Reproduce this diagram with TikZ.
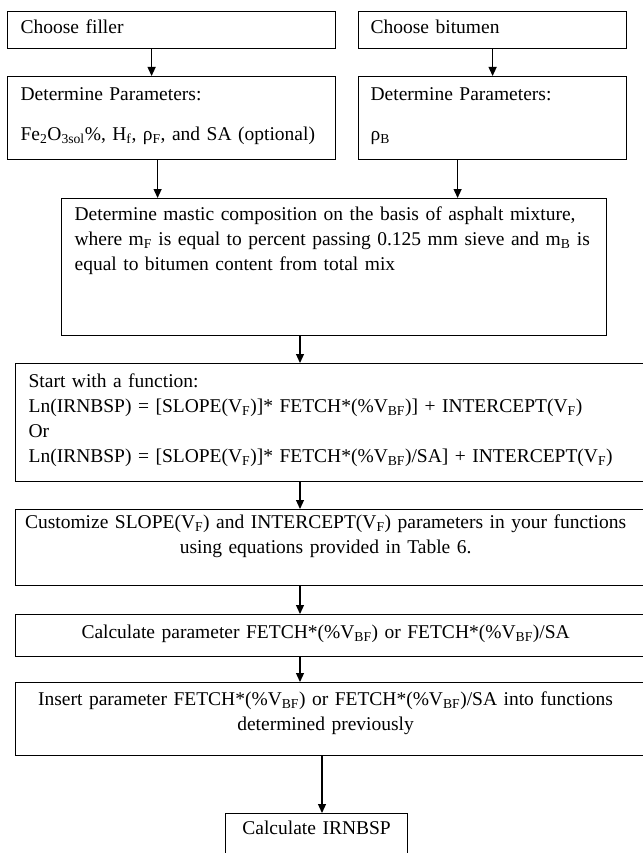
\documentclass[tikz,border=0pt]{standalone}
\usepackage{fontspec}
\setmainfont{Liberation Serif}
\usetikzlibrary{arrows.meta, positioning, calc}

\begin{document}
\begin{tikzpicture}[x=1pt, y=-1pt,
    stepbox/.style={draw, line width=1.2pt, anchor=north west, inner ysep=0pt,
                    font=\fontsize{19.5}{25}\selectfont},
    flow/.style={-{Triangle[length=9pt, width=8pt]}, line width=1.2pt}
]
    \useasboundingbox (0,0) rectangle (642,853);

    % Filler and bitumen
    \node[stepbox, inner xsep=13pt, text width=302pt, text height=22pt, text depth=15pt] (filler) at (7,11) {Choose filler};
    \node[stepbox, inner xsep=12pt, text width=244pt, text height=22pt, text depth=15pt] (bitumen) at (358,11) {Choose bitumen};

    \node[stepbox, inner xsep=13pt, text width=302pt, text height=24pt, text depth=59pt] (parF) at (7,76) {
        Determine Parameters:\\[15pt]
        Fe\textsubscript{2}O\textsubscript{3sol}\%, H\textsubscript{f}, ρ\textsubscript{F}, and SA (optional)
    };
    \node[stepbox, inner xsep=12pt, text width=244pt, text height=24pt, text depth=59pt] (parB) at (358,76) {
        Determine Parameters:\\[15pt]
        ρ\textsubscript{B}
    };

    % Mastic composition
    \node[stepbox, inner xsep=13pt, text width=519pt, text height=22pt, text depth=115pt] (mastic) at (61,198) {
        Determine mastic composition on the basis of asphalt mixture,\\
        \mbox{where m\textsubscript{F} is equal to percent passing 0.125 mm sieve and m\textsubscript{B} is}\\
        equal to bitumen content from total mix
    };

    % Main column
    \node[stepbox, inner xsep=13pt, text width=624pt, text height=24pt, text depth=94pt] (func) at (15,363) {
        Start with a function:\\
        Ln(IRNBSP) = [SLOPE(V\textsubscript{F})]* FETCH*(\%V\textsubscript{BF})] + INTERCEPT(V\textsubscript{F})\\
        Or\\
        Ln(IRNBSP) = [SLOPE(V\textsubscript{F})]* FETCH*(\%V\textsubscript{BF})/SA] + INTERCEPT(V\textsubscript{F})
    };
    \node[stepbox, inner xsep=0pt, text width=650pt, text height=18.5pt, text depth=57.5pt] (custom) at (15,509) {
        \parbox[t]{620pt}{\centering
        Customize SLOPE(V\textsubscript{F}) and INTERCEPT(V\textsubscript{F}) parameters in your functions\\
        using equations provided in Table 6.}
    };
    \node[stepbox, inner xsep=0pt, text width=650pt, text height=24pt, text depth=18pt] (calcfetch) at (15,614) {
        \parbox[t]{620pt}{\centering
        Calculate parameter FETCH*(\%V\textsubscript{BF}) or FETCH*(\%V\textsubscript{BF})/SA}
    };
    \node[stepbox, inner xsep=0pt, text width=650pt, text height=23pt, text depth=50pt] (insertfn) at (15,682) {
        \parbox[t]{620pt}{\centering
        Insert parameter FETCH*(\%V\textsubscript{BF}) or FETCH*(\%V\textsubscript{BF})/SA into functions\\
        determined previously}
    };
    \node[stepbox, inner xsep=0pt, text width=182pt, align=center, text height=21pt, text depth=36pt] (irnbsp) at (225,813) {Calculate IRNBSP};

    % Arrows
    \coordinate (spine) at (300,0);
    \coordinate (spinelow) at (322,0);
    \draw[flow] ([xshift=-20pt]filler.south) -- ([xshift=-20pt]filler.south |- parF.north);
    \draw[flow] (bitumen.south) -- (parB.north);
    \draw[flow] ([xshift=-14pt]parF.south) -- ([xshift=-14pt]parF.south |- mastic.north);
    \draw[flow] ([xshift=-35pt]parB.south) -- ([xshift=-35pt]parB.south |- mastic.north);
    \draw[flow] (mastic.south -| spine) -- (func.north -| spine);
    \draw[flow] (func.south -| spine) -- (custom.north -| spine);
    \draw[flow] (custom.south -| spine) -- (calcfetch.north -| spine);
    \draw[flow] (calcfetch.south -| spine) -- (insertfn.north -| spine);
    \draw[flow] (insertfn.south -| spinelow) -- (irnbsp.north -| spinelow);
\end{tikzpicture}
\end{document}
